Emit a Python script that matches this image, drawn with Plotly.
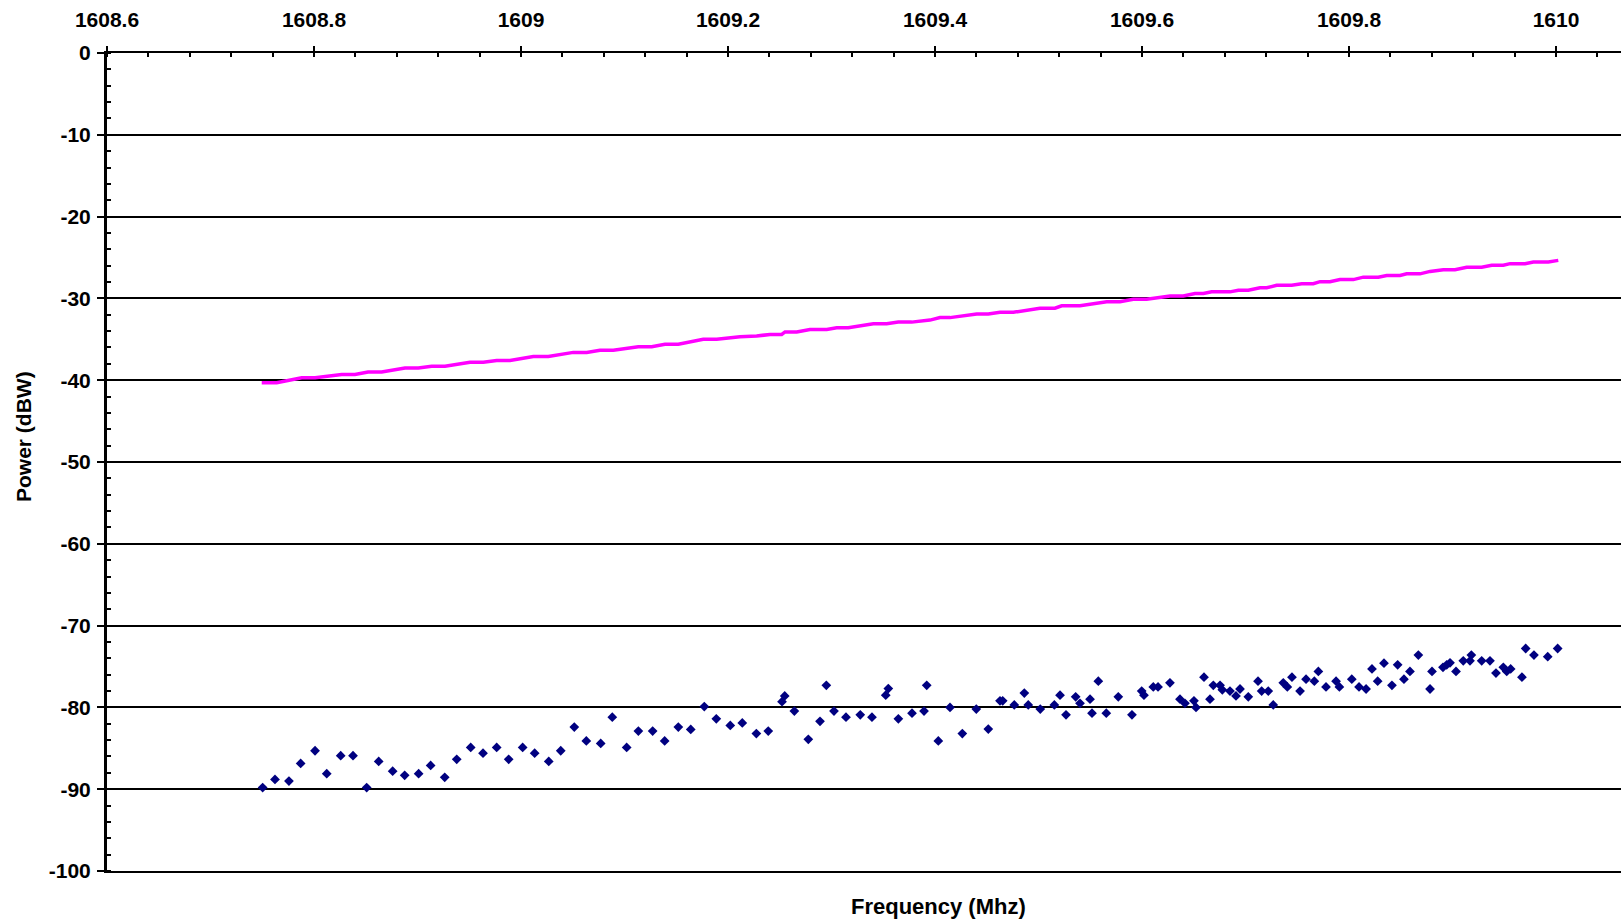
import plotly.graph_objects as go

# Magenta trace
line_freq = [1608.7495, 1608.764, 1608.7881, 1608.801, 1608.8268, 1608.8396, 1608.8522, 1608.8654,
             1608.8879, 1608.9008, 1608.9137, 1608.9266, 1608.9507, 1608.9636, 1608.9765, 1608.9894,
             1609.0119, 1609.0264, 1609.0505, 1609.0635, 1609.0763, 1609.0892, 1609.1133, 1609.1263,
             1609.1391, 1609.152, 1609.1761, 1609.1891, 1609.2116, 1609.2277, 1609.2406, 1609.2519,
             1609.2551, 1609.2664, 1609.2792, 1609.2954, 1609.305, 1609.3162, 1609.3404, 1609.3533,
             1609.3645, 1609.3775, 1609.3952, 1609.4048, 1609.4145, 1609.4403, 1609.4515, 1609.4628,
             1609.4757, 1609.5014, 1609.5159, 1609.5224, 1609.5401, 1609.5562, 1609.5659, 1609.5787,
             1609.5916, 1609.6045, 1609.6271, 1609.6399, 1609.6512, 1609.6593, 1609.6673, 1609.685,
             1609.6931, 1609.7027, 1609.714, 1609.7205, 1609.7301, 1609.7446, 1609.7543, 1609.7655,
             1609.772, 1609.7816, 1609.7913, 1609.8042, 1609.8138, 1609.8283, 1609.8364, 1609.8493,
             1609.8557, 1609.8686, 1609.8783, 1609.8911, 1609.9024, 1609.9137, 1609.9282, 1609.9379,
             1609.9491, 1609.9556, 1609.9701, 1609.9781, 1609.9926, 1610.0022]
line_power = [-40.3, -40.3, -39.7, -39.7, -39.3, -39.3, -39.0, -39.0,
              -38.5, -38.5, -38.3, -38.3, -37.8, -37.8, -37.6, -37.6,
              -37.1, -37.1, -36.6, -36.6, -36.35, -36.35, -35.9, -35.9,
              -35.6, -35.6, -35.0, -35.0, -34.7, -34.6, -34.4, -34.4,
              -34.1, -34.1, -33.8, -33.8, -33.6, -33.6, -33.1, -33.1,
              -32.9, -32.9, -32.65, -32.35, -32.35, -31.9, -31.9, -31.7,
              -31.7, -31.2, -31.2, -30.9, -30.9, -30.6, -30.4, -30.4,
              -30.1, -30.1, -29.7, -29.7, -29.4, -29.4, -29.2, -29.2,
              -29.0, -29.0, -28.7, -28.7, -28.4, -28.4, -28.2, -28.2,
              -27.95, -27.95, -27.7, -27.7, -27.4, -27.4, -27.2, -27.2,
              -27.0, -27.0, -26.7, -26.5, -26.5, -26.2, -26.2, -25.95,
              -25.95, -25.75, -25.75, -25.55, -25.55, -25.35]

# Navy diamonds
pt_freq = [1608.7504, 1608.7623, 1608.7758, 1608.7871, 1608.8010, 1608.8123, 1608.8258, 1608.8377,
           1608.8509, 1608.8625, 1608.8760, 1608.8876, 1608.9011, 1608.9127, 1608.9263, 1608.9379,
           1608.9514, 1608.9633, 1608.9765, 1608.9881, 1609.0016, 1609.0132, 1609.0268, 1609.0384,
           1609.0515, 1609.0631,
           1609.0770, 1609.0882, 1609.1021, 1609.1134, 1609.1272, 1609.1388, 1609.1520, 1609.1640,
           1609.1771, 1609.1887, 1609.2022, 1609.2138, 1609.2274, 1609.2389, 1609.2522, 1609.2548,
           1609.2641, 1609.2776, 1609.2889, 1609.2950, 1609.3024, 1609.3140, 1609.3278, 1609.3391,
           1609.3524, 1609.3549, 1609.3646, 1609.3778, 1609.3894, 1609.3920,
           1609.4032, 1609.4145, 1609.4264, 1609.4399, 1609.4515, 1609.4628, 1609.4654, 1609.4766,
           1609.4863, 1609.4901, 1609.5017, 1609.5153, 1609.5208, 1609.5266, 1609.5359, 1609.5401,
           1609.5498, 1609.5517, 1609.5578, 1609.5655, 1609.5771, 1609.5903, 1609.5997, 1609.6019,
           1609.6109, 1609.6155, 1609.6270, 1609.6367, 1609.6415, 1609.6502, 1609.6522, 1609.6599,
           1609.6657, 1609.6689, 1609.6754, 1609.6776, 1609.6850, 1609.6908, 1609.6947, 1609.7027,
           1609.7121, 1609.7156, 1609.7220,
           1609.7268, 1609.7365, 1609.7404, 1609.7449, 1609.7527, 1609.7585, 1609.7665, 1609.7704,
           1609.7778, 1609.7875, 1609.7907, 1609.8027, 1609.8097, 1609.8165, 1609.8222, 1609.8277,
           1609.8338, 1609.8415, 1609.8470, 1609.8531, 1609.8589, 1609.8670, 1609.8783, 1609.8802,
           1609.8908, 1609.8944, 1609.8976, 1609.9034, 1609.9104, 1609.9169, 1609.9182, 1609.9282,
           1609.9362, 1609.9420, 1609.9491, 1609.9524, 1609.9562, 1609.9671, 1609.9707, 1609.9787,
           1609.9920, 1610.0016]
pt_power = [-89.8, -88.8, -89.0, -86.85, -85.3, -88.1, -85.9, -85.9,
            -89.8, -86.6, -87.8, -88.3, -88.1, -87.1, -88.55, -86.35,
            -84.9, -85.6, -84.9, -86.35, -84.9, -85.6, -86.6, -85.3,
            -82.4, -84.1,
            -84.4, -81.2, -84.9, -82.9, -82.9, -84.1, -82.4, -82.7,
            -79.9, -81.4, -82.2, -81.9, -83.2, -82.9, -79.3, -78.6,
            -80.45, -83.9, -81.7, -77.3, -80.45, -81.2, -80.9, -81.2,
            -78.5, -77.7, -81.4, -80.7, -80.45, -77.3,
            -84.1, -80.0, -83.2, -80.2, -82.65, -79.2, -79.2, -79.7,
            -78.25, -79.7, -80.2, -79.7, -78.5, -80.9, -78.7, -79.5,
            -79.0, -80.7, -76.8, -80.7, -78.7, -80.9, -78.0, -78.5,
            -77.5, -77.5, -77.0, -79.0, -79.5, -79.2, -80.0, -76.3,
            -79.0, -77.3, -77.3, -77.85, -78.0, -78.6, -77.75, -78.7,
            -76.8, -78.0, -78.0,
            -79.7, -77.0, -77.5, -76.3, -78.0, -76.55, -76.8, -75.6,
            -77.5, -76.8, -77.5, -76.55, -77.5, -77.75, -75.3, -76.8,
            -74.6, -77.3, -74.8, -76.55, -75.6, -73.6, -77.75, -75.6,
            -75.1, -74.8, -74.55, -75.6, -74.3, -74.3, -73.6, -74.3,
            -74.3, -75.8, -75.1, -75.6, -75.3, -76.3, -72.8, -73.6,
            -73.8, -72.8]

x_tick_vals = [1608.6, 1608.8, 1609.0, 1609.2, 1609.4, 1609.6, 1609.8, 1610.0]
x_tick_text = ["1608.6", "1608.8", "1609", "1609.2", "1609.4", "1609.6", "1609.8", "1610"]
y_tick_vals = [0, -10, -20, -30, -40, -50, -60, -70, -80, -90, -100]
y_tick_text = ["0", "-10", "-20", "-30", "-40", "-50", "-60", "-70", "-80", "-90", "-100"]

FONT = "Liberation Sans, Arial, sans-serif"
tfont = dict(family=FONT, size=21, color="black", weight="bold")

fig = go.Figure()
fig.add_trace(go.Scatter(x=line_freq, y=line_power, mode="lines",
                         line=dict(color="#FF00FF", width=3.5), showlegend=False))
fig.add_trace(go.Scatter(x=pt_freq, y=pt_power, mode="markers",
                         marker=dict(symbol="diamond", color="#000080", size=7.5,
                                     line=dict(width=0)), showlegend=False))

fig.update_layout(
    width=1621, height=924,
    margin=dict(l=107, r=0, t=53, b=53),
    paper_bgcolor="white", plot_bgcolor="white",
    showlegend=False,
    xaxis=dict(
        side="top", range=[1608.6, 1610.0628], tickmode="array",
        tickvals=x_tick_vals, ticktext=x_tick_text, tickfont=tfont,
        showgrid=False, zeroline=False,
        showline=True, linecolor="black", linewidth=2, mirror=True,
        ticks="outside", ticklen=5, tickwidth=2, tickcolor="black",
        ticklabelstandoff=11,
        minor=dict(tick0=1608.6, dtick=0.04, ticks="inside", ticklen=4,
                   tickwidth=2, tickcolor="black", showgrid=False),
    ),
    yaxis=dict(
        range=[-100, 0], tickmode="array", tickvals=y_tick_vals, ticktext=y_tick_text,
        tickfont=tfont, showgrid=True, gridcolor="black", gridwidth=2,
        zeroline=False, showline=True, linecolor="black", linewidth=3,
        ticks="outside", ticklen=7, tickwidth=2, tickcolor="black",
        ticklabelstandoff=2,
        minor=dict(tick0=0, dtick=2, ticks="inside", ticklen=4,
                   tickwidth=2, tickcolor="black", showgrid=False),
    ),
    annotations=[
        dict(text="Frequency (Mhz)", xref="paper", yref="paper",
             x=(938 - 107) / 1514, y=-(907 - 871.5) / 819,
             xanchor="center", yanchor="middle", showarrow=False,
             font=dict(family=FONT, size=22, color="black", weight="bold")),
        dict(text="Power (dBW)", xref="paper", yref="paper",
             x=(23 - 107) / 1514, y=(871.5 - 437) / 819, textangle=-90,
             xanchor="center", yanchor="middle", showarrow=False,
             font=dict(family=FONT, size=21, color="black", weight="bold")),
    ],
)

fig.write_html("out.html", config={"displayModeBar": False},
               post_script="document.body.style.margin='0';document.body.style.overflow='hidden';")
